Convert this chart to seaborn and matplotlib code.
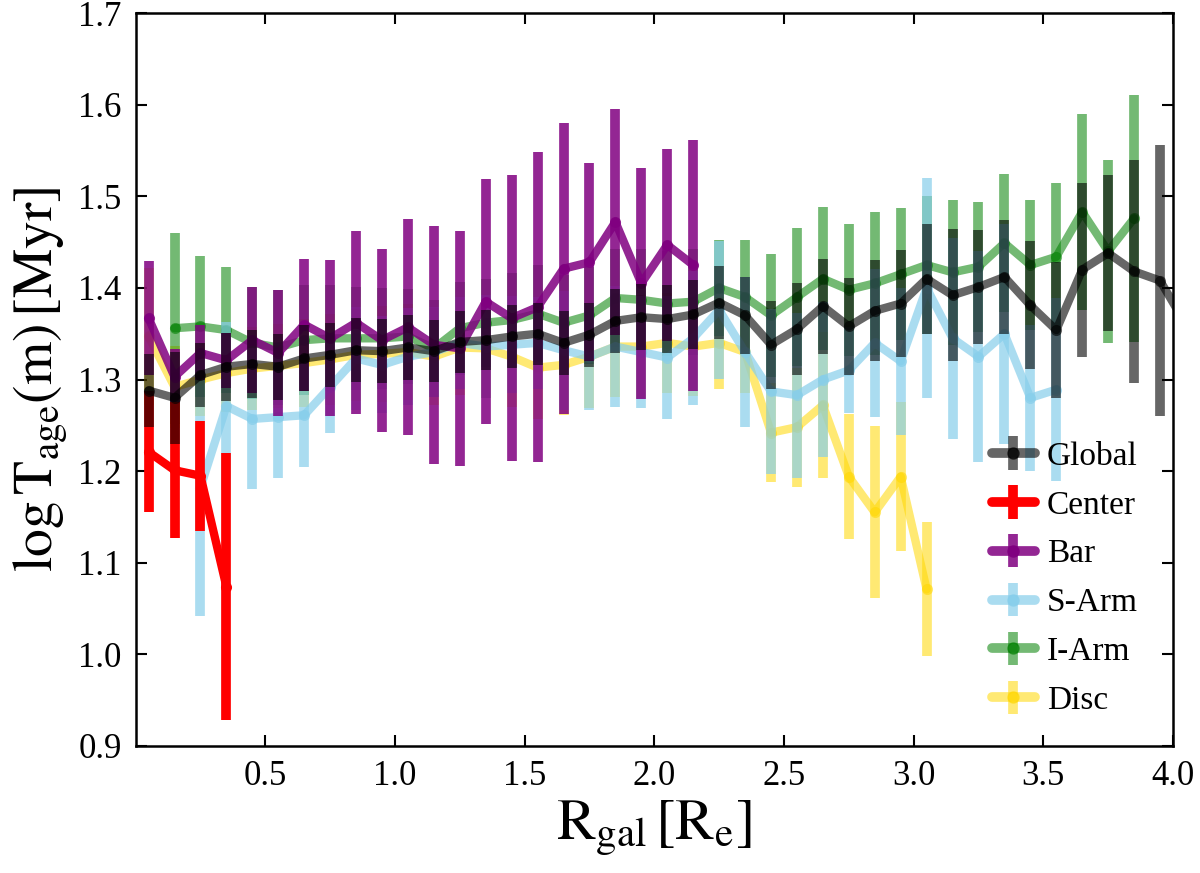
import numpy as np
import pandas as pd
import seaborn as sns
import matplotlib
matplotlib.use("Agg")
import matplotlib.pyplot as plt

# radial bins (R_gal / R_e)
x_global = np.round(np.arange(0.05, 4.06, 0.1), 2)
x_center = x_global[:4]
x_bar = x_global[:22]
x_sarm = x_global[2:36]
x_iarm = x_global[1:39]
x_disc = x_global[:31]

global_y = [1.288, 1.280, 1.305, 1.314, 1.317, 1.314, 1.323, 1.327, 1.332, 1.331, 1.335,
            1.331, 1.341, 1.343, 1.347, 1.350, 1.340, 1.349, 1.364, 1.368, 1.366, 1.371, 1.384,
            1.370, 1.338, 1.355, 1.380, 1.358, 1.375, 1.383, 1.410,
            1.392, 1.401, 1.412, 1.381, 1.354, 1.420, 1.438, 1.418, 1.408, 1.360]
global_err = [0.040, 0.050, 0.035, 0.037, 0.037, 0.036, 0.036, 0.035, 0.035, 0.035, 0.035,
              0.034, 0.034, 0.033, 0.034, 0.034, 0.035, 0.035, 0.035, 0.036, 0.037, 0.038, 0.040,
              0.042, 0.048, 0.050, 0.052, 0.053, 0.055, 0.058, 0.060,
              0.072, 0.062, 0.062, 0.070, 0.074, 0.095, 0.085, 0.122, 0.148, 0.160]

center_y = [1.221, 1.201, 1.195, 1.074]
center_err = [0.066, 0.074, 0.060, 0.146]

bar_y = [1.367, 1.303, 1.329, 1.321, 1.343, 1.329, 1.360, 1.345, 1.362, 1.343, 1.357,
         1.338, 1.334, 1.385, 1.367, 1.379, 1.421, 1.428, 1.472, 1.405, 1.447, 1.425]
bar_err = [0.062, 0.030, 0.030, 0.030, 0.058, 0.069, 0.072, 0.085, 0.100, 0.100, 0.118,
           0.130, 0.128, 0.134, 0.156, 0.169, 0.159, 0.108, 0.123, 0.126, 0.105, 0.137]

sarm_y = [1.182, 1.271, 1.257, 1.259, 1.261, 1.292, 1.323, 1.316, 1.325,
          1.330, 1.340, 1.336, 1.338, 1.340, 1.332, 1.325, 1.336, 1.330, 1.324, 1.345, 1.376,
          1.330, 1.287, 1.283, 1.300, 1.310, 1.340, 1.320, 1.400,
          1.345, 1.325, 1.350, 1.280, 1.289]
sarm_err = [0.140, 0.092, 0.077, 0.066, 0.057, 0.050, 0.056, 0.053, 0.053,
            0.049, 0.050, 0.056, 0.053, 0.050, 0.065, 0.058, 0.066, 0.061, 0.067, 0.073, 0.075,
            0.082, 0.090, 0.090, 0.085, 0.047, 0.081, 0.080, 0.120,
            0.110, 0.115, 0.120, 0.080, 0.100]

iarm_y = [1.356, 1.358, 1.354, 1.340, 1.335, 1.343, 1.345, 1.345, 1.345, 1.347,
          1.334, 1.356, 1.362, 1.365, 1.372, 1.362, 1.370, 1.389, 1.387, 1.383, 1.385, 1.400,
          1.390, 1.370, 1.390, 1.410, 1.398, 1.405, 1.415, 1.425,
          1.417, 1.423, 1.449, 1.425, 1.434, 1.483, 1.440, 1.476]
iarm_err = [0.104, 0.077, 0.069, 0.061, 0.063, 0.060, 0.058, 0.056, 0.055, 0.052,
            0.053, 0.051, 0.048, 0.051, 0.053, 0.052, 0.053, 0.054, 0.056, 0.057, 0.058, 0.052,
            0.062, 0.067, 0.075, 0.078, 0.072, 0.078, 0.072, 0.075,
            0.079, 0.071, 0.075, 0.071, 0.080, 0.107, 0.100, 0.135]

disc_y = [1.347, 1.292, 1.300, 1.307, 1.312, 1.315, 1.318, 1.322, 1.327, 1.328, 1.330,
          1.325, 1.335, 1.334, 1.325, 1.313, 1.316, 1.325, 1.336, 1.336, 1.340, 1.336, 1.340,
          1.330, 1.242, 1.248, 1.272, 1.194, 1.155, 1.194, 1.071]
disc_err = [0.075, 0.045, 0.040, 0.042, 0.045, 0.046, 0.048, 0.050, 0.050, 0.052, 0.052,
            0.053, 0.052, 0.054, 0.055, 0.056, 0.055, 0.056, 0.055, 0.056, 0.055, 0.054, 0.050,
            0.045, 0.054, 0.065, 0.080, 0.068, 0.094, 0.081, 0.073]

series = [
    ("Global", x_global, global_y, global_err, "black", 0.6, 6),
    ("Center", x_center, center_y, center_err, "red", 1.0, 5),
    ("Bar", x_bar, bar_y, bar_err, "purple", 0.85, 4),
    ("S-Arm", x_sarm, sarm_y, sarm_err, "skyblue", 0.7, 3),
    ("I-Arm", x_iarm, iarm_y, iarm_err, "green", 0.55, 2),
    ("Disc", x_disc, disc_y, disc_err, "gold", 0.55, 1),
]

sns.set_style('ticks')
plt.rcParams['font.family'] = ['Liberation Serif', 'DejaVu Serif']
plt.rcParams['mathtext.fontset'] = 'stix'
for key in ['text.color', 'axes.labelcolor', 'xtick.color', 'ytick.color', 'axes.edgecolor']:
    plt.rcParams[key] = 'black'

fig = plt.figure(figsize=(12, 8.73), dpi=100)
ax = fig.add_axes([0.113, 0.1455, 0.8645, 0.8395])

for name, xs, ys, es, col, alpha, z in series:
    df = pd.DataFrame({"r": xs, "age": ys})
    sns.lineplot(data=df, x="r", y="age", color=col, alpha=alpha, lw=6,
                 marker="o", markersize=8, markeredgewidth=0, zorder=z, ax=ax)
    ax.errorbar(xs, ys, yerr=es, fmt="none", ecolor=col, alpha=alpha,
                elinewidth=7, capsize=0, zorder=z)

ax.set_xlim(0, 4.0)
ax.set_ylim(0.9, 1.7)
ax.set_xticks([0.5, 1.0, 1.5, 2.0, 2.5, 3.0, 3.5, 4.0])
ax.set_xticklabels(["0.5", "1.0", "1.5", "2.0", "2.5", "3.0", "3.5", "4.0"])
ax.set_yticks([0.9, 1.0, 1.1, 1.2, 1.3, 1.4, 1.5, 1.6, 1.7])
ax.set_yticklabels(["0.9", "1.0", "1.1", "1.2", "1.3", "1.4", "1.5", "1.6", "1.7"])
ax.tick_params(direction="in", top=True, right=True, length=8, width=1.5,
               labelsize=25, pad=10)
for axis in ['top', 'bottom', 'left', 'right']:
    ax.spines[axis].set_linewidth(1.8)

ax.set_xlabel(r"$\mathrm{R_{gal}\,[R_e]}$", fontsize=42, labelpad=4)
ax.set_ylabel(r"$\mathrm{log\,T_{age}(m)\,[Myr]}$", fontsize=40, labelpad=6)

# legend entries drawn as errorbar crosses
leg_handles = []
for name, xs, ys, es, col, alpha, z in series:
    leg_handles.append(ax.errorbar([], [], yerr=[], fmt="-o", color=col, alpha=alpha,
                                   lw=7, elinewidth=7, ms=8, capsize=0))
ax.legend(leg_handles, [s[0] for s in series], loc="lower right",
          bbox_to_anchor=(0.995, 0.0), frameon=False, fontsize=24,
          handlelength=1.3, handletextpad=0.35, labelspacing=0.55)

fig.savefig("out.png", dpi=100)
